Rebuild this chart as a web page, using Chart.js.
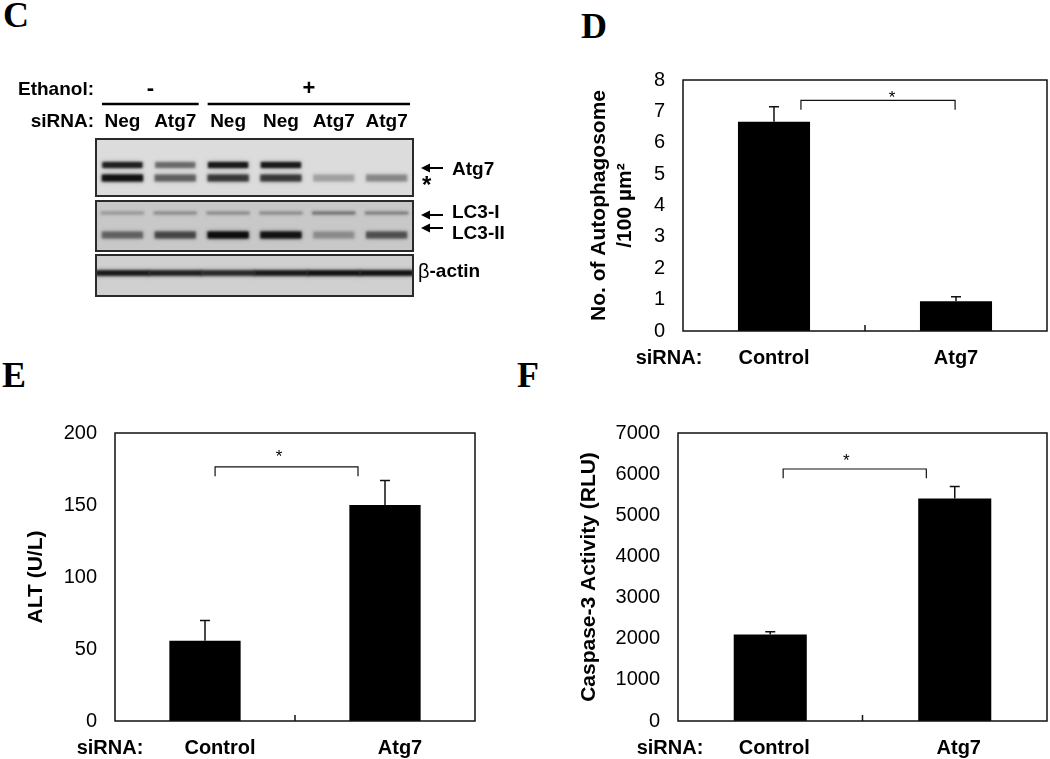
<!DOCTYPE html>
<html>
<head>
<meta charset="utf-8">
<script src="https://cdn.jsdelivr.net/npm/chart.js@4.4.1/dist/chart.umd.min.js"></script>
<style>
  html, body { margin: 0; padding: 0; background: #fff; }
  body { width: 1050px; height: 759px; position: relative; overflow: hidden; }
  canvas { position: absolute; }
  .tag {
    position: absolute;
    font-family: "Liberation Serif", "Times New Roman", serif;
    font-weight: bold; font-size: 36px; line-height: 36px; color: #000;
  }
</style>
</head>
<body>
<div class="tag" style="left:3px;top:-3px">C</div>
<div class="tag" style="left:581px;top:8px">D</div>
<div class="tag" style="left:2px;top:357px">E</div>
<div class="tag" style="left:517px;top:357px">F</div>

<canvas id="blot" width="520" height="240" style="left:0;top:60px"></canvas>
<canvas id="chartD" width="490" height="330" style="left:560px;top:50px"></canvas>
<canvas id="chartE" width="480" height="379" style="left:0;top:380px"></canvas>
<canvas id="chartF" width="530" height="379" style="left:520px;top:380px"></canvas>

<script>
// ── Data ──────────────────────────────────────────────────────
const groups = ['Control', 'Atg7'];

const autophagosome    = [6.67, 0.95];
const autophagosomeErr = [0.48, 0.14];

const alt    = [55.8, 150];
const altErr = [14, 17];

const caspase    = [2100, 5410];
const caspaseErr = [70, 290];

// western blot (C): band intensity per lane, 0..1
const lanes     = ['Neg', 'Atg7', 'Neg', 'Neg', 'Atg7', 'Atg7'];
const ethanol   = ['-', '-', '+', '+', '+', '+'];
const atg7Band  = [0.85, 0.45, 0.9, 0.9, 0, 0];
const starBand  = [0.95, 0.5, 0.7, 0.7, 0.22, 0.32];
const lc3iBand  = [0.22, 0.28, 0.28, 0.28, 0.42, 0.35];
const lc3iiBand = [0.45, 0.6, 1.0, 0.95, 0.25, 0.55];
const actinBand = [0.9, 0.85, 0.8, 0.9, 0.95, 0.95];

// ── Defaults ──────────────────────────────────────────────────
Chart.defaults.font.family = '"Liberation Sans", Arial, sans-serif';
Chart.defaults.color = '#000';

const SANS = '"Liberation Sans", Arial, sans-serif';

// ── Bar chart decorations: error bars, frame, bracket ────────
const barDecor = {
  id: 'barDecor',
  afterDatasetsDraw(chart, args, o) {
    const { ctx, chartArea: a, scales: { x, y } } = chart;
    const vals = chart.data.datasets[0].data;
    ctx.save();
    ctx.strokeStyle = '#111';
    ctx.lineWidth = 1.5;

    chart.getDatasetMeta(0).data.forEach((bar, i) => {
      const yt = y.getPixelForValue(vals[i] + o.err[i]);
      ctx.beginPath();
      ctx.moveTo(bar.x, bar.y);
      ctx.lineTo(bar.x, yt);
      ctx.moveTo(bar.x - 5, yt);
      ctx.lineTo(bar.x + 5, yt);
      ctx.stroke();
    });

    ctx.strokeRect(a.left, a.top, a.width, a.height);

    const xm = x.getPixelForValue(0.5);
    ctx.beginPath();
    ctx.moveTo(xm, a.bottom);
    ctx.lineTo(xm, a.bottom - 6);
    ctx.stroke();

    // significance bracket
    const x1 = x.getPixelForValue(o.from), x2 = x.getPixelForValue(o.to);
    const yb = y.getPixelForValue(o.top), ye = y.getPixelForValue(o.end);
    ctx.lineWidth = 1.2;
    ctx.beginPath();
    ctx.moveTo(x1, ye); ctx.lineTo(x1, yb); ctx.lineTo(x2, yb); ctx.lineTo(x2, ye);
    ctx.stroke();

    ctx.fillStyle = '#000';
    ctx.textAlign = 'center';
    ctx.textBaseline = 'middle';
    ctx.font = '17px ' + SANS;
    ctx.fillText('*', x.getPixelForValue(o.starX), y.getPixelForValue(o.starY) + 4);

    ctx.font = 'bold 20px ' + SANS;
    ctx.fillText('siRNA:', o.rowLabelX, a.bottom + 27);
    ctx.restore();
  }
};

function barChart(id, values, o) {
  return new Chart(document.getElementById(id), {
    type: 'bar',
    data: {
      labels: groups,
      datasets: [{
        data: values,
        backgroundColor: '#000',
        borderWidth: 0,
        barPercentage: 0.396,
        categoryPercentage: 1,
      }],
    },
    options: {
      responsive: false,
      animation: false,
      devicePixelRatio: 1,
      layout: { padding: { top: o.top, right: o.right, bottom: 0, left: 0 } },
      plugins: {
        legend: { display: false },
        tooltip: { enabled: false },
        barDecor: o.decor,
      },
      scales: {
        x: {
          grid: { display: false, drawTicks: false },
          border: { display: false },
          ticks: { font: { size: 20, weight: 'bold' }, color: '#000', padding: 15, labelOffset: o.labelOffset },
          afterFit: (s) => { s.height = o.xh; },
        },
        y: {
          min: 0, max: o.max,
          grid: { display: false, drawTicks: false },
          border: { display: false },
          ticks: { stepSize: o.step, font: { size: 20 }, color: '#000', padding: 18, callback: (v) => String(v) },
          title: {
            display: true, text: o.title, color: '#000',
            font: { size: 21, weight: 'bold' },
            padding: { top: o.titlePad, bottom: 0 },
          },
          afterFit: (s) => { s.width = o.yw; },
        },
      },
    },
    plugins: [barDecor],
  });
}

// ── D: autophagosomes ────────────────────────────────────────
barChart('chartD', autophagosome, {
  top: 21, right: 3, xh: 49, yw: 123, max: 8, step: 1, titlePad: 27, labelOffset: 0,
  title: ['No. of Autophagosome', '/100 \u00b5m\u00b2'],
  decor: { err: autophagosomeErr, from: 0.148, to: 0.995, top: 7.35, end: 7.05,
           starX: 0.648, starY: 7.55, rowLabelX: 109 },
});

// ── E: ALT ───────────────────────────────────────────────────
barChart('chartE', alt, {
  top: 53, right: 5, xh: 38, yw: 115, max: 200, step: 50, titlePad: 24, labelOffset: 15,
  title: 'ALT (U/L)',
  decor: { err: altErr, from: 0.056, to: 0.85, top: 176.5, end: 170,
           starX: 0.411, starY: 186, rowLabelX: 110 },
});

// ── F: caspase-3 ─────────────────────────────────────────────
barChart('chartF', caspase, {
  top: 53, right: 3, xh: 38, yw: 158, max: 7000, step: 1000, titlePad: 57, labelOffset: 4,
  title: 'Caspase-3 Activity (RLU)',
  decor: { err: caspaseErr, from: 0.07, to: 0.846, top: 6125, end: 5900,
           starX: 0.412, starY: 6417, rowLabelX: 150 },
});

// ── C: western blot ──────────────────────────────────────────
// rows in blot units (0 = top of first membrane, 157 = bottom of last)
const PANELS = [
  { from: 0,   to: 57,  fill: '#dcdcdc' },
  { from: 62,  to: 112, fill: '#c8c8c8' },
  { from: 116, to: 157, fill: '#d0d0d0' },
];
const ROWS = {
  atg7:  { y: 26,  h: 3,   w: 0.76 },
  star:  { y: 39,  h: 3.6, w: 0.78 },
  lc3i:  { y: 74,  h: 1.6, w: 0.82 },
  lc3ii: { y: 96,  h: 3.4, w: 0.78 },
  actin: { y: 134, h: 2.4, w: 1 },
};

function band(vals, row) {
  return {
    data: vals.map(() => [row.y - row.h, row.y + row.h]),
    backgroundColor: vals.map((v) => `rgba(12,12,12,${v})`),
    borderWidth: 0,
    barPercentage: row.w,
    categoryPercentage: 1,
    grouped: false,
  };
}

function arrow(ctx, x1, x2, y) {
  ctx.beginPath();
  ctx.moveTo(x1 + 6, y);
  ctx.lineTo(x2, y);
  ctx.stroke();
  ctx.beginPath();
  ctx.moveTo(x1, y);
  ctx.lineTo(x1 + 9, y - 4.5);
  ctx.lineTo(x1 + 9, y + 4.5);
  ctx.closePath();
  ctx.fill();
}

const blotDecor = {
  id: 'blotDecor',
  beforeDatasetsDraw(chart) {
    const { ctx, chartArea: a, scales: { y } } = chart;
    PANELS.forEach((p) => {
      const t = y.getPixelForValue(p.from), b = y.getPixelForValue(p.to);
      ctx.fillStyle = p.fill;
      ctx.fillRect(a.left, t, a.width, b - t);
    });
    // soft band edges
    ctx.save();
    ctx.filter = 'blur(1px)';
    ctx.shadowColor = 'rgba(0,0,0,0.45)';
    ctx.shadowBlur = 4;
  },
  afterDatasetsDraw(chart) {
    const { ctx, chartArea: a, scales: { x, y } } = chart;
    ctx.restore();
    ctx.save();

    ctx.strokeStyle = '#2a2a2a';
    ctx.lineWidth = 2;
    PANELS.forEach((p) => {
      const t = y.getPixelForValue(p.from), b = y.getPixelForValue(p.to);
      ctx.strokeRect(a.left, t, a.width, b - t);
    });

    ctx.fillStyle = '#000';
    ctx.strokeStyle = '#000';
    ctx.textBaseline = 'middle';

    // header rows
    ctx.font = 'bold 19px ' + SANS;
    ctx.textAlign = 'right';
    ctx.fillText('Ethanol:', a.left - 2, a.top - 49);
    ctx.fillText('siRNA:', a.left - 2, a.top - 17);

    ctx.textAlign = 'center';
    lanes.forEach((l, i) => ctx.fillText(l, x.getPixelForValue(i), a.top - 17));

    const half = (x.getPixelForValue(1) - x.getPixelForValue(0)) / 2;
    let s = 0;
    for (let i = 1; i <= ethanol.length; i++) {
      if (i === ethanol.length || ethanol[i] !== ethanol[s]) {
        const x1 = x.getPixelForValue(s) - half + 6;
        const x2 = x.getPixelForValue(i - 1) + half - 3;
        ctx.lineWidth = 2.5;
        ctx.beginPath();
        ctx.moveTo(x1, a.top - 35);
        ctx.lineTo(x2, a.top - 35);
        ctx.stroke();
        ctx.font = 'bold 22px ' + SANS;
        ctx.fillText(ethanol[s], (x1 + x2) / 2, a.top - 50);
        s = i;
      }
    }

    // band labels on the right
    const r = a.right;
    ctx.lineWidth = 2;
    ctx.textAlign = 'left';
    ctx.font = 'bold 19px ' + SANS;
    arrow(ctx, r + 8, r + 30, y.getPixelForValue(29));
    ctx.fillText('Atg7', r + 39, y.getPixelForValue(31));
    ctx.font = 'bold 24px ' + SANS;
    ctx.fillText('*', r + 9, y.getPixelForValue(47));
    ctx.font = 'bold 19px ' + SANS;
    arrow(ctx, r + 8, r + 30, y.getPixelForValue(76));
    ctx.fillText('LC3-I', r + 39, y.getPixelForValue(74));
    arrow(ctx, r + 8, r + 30, y.getPixelForValue(89));
    ctx.fillText('LC3-II', r + 39, y.getPixelForValue(95));

    const ya = y.getPixelForValue(133);
    ctx.font = '20px ' + SANS;
    ctx.fillText('\u03b2', r + 5, ya);
    const bw = ctx.measureText('\u03b2').width;
    ctx.font = 'bold 19px ' + SANS;
    ctx.fillText('-actin', r + 5 + bw, ya);

    ctx.restore();
  },
};

new Chart(document.getElementById('blot'), {
  type: 'bar',
  data: {
    labels: lanes,
    datasets: [
      band(atg7Band, ROWS.atg7),
      band(starBand, ROWS.star),
      band(lc3iBand, ROWS.lc3i),
      band(lc3iiBand, ROWS.lc3ii),
      band(actinBand, ROWS.actin),
    ],
  },
  options: {
    responsive: false,
    animation: false,
    devicePixelRatio: 1,
    layout: { padding: { left: 96, right: 107, top: 79, bottom: 4 } },
    plugins: { legend: { display: false }, tooltip: { enabled: false } },
    scales: {
      x: { display: false },
      y: { display: false, min: 0, max: 157, reverse: true },
    },
  },
  plugins: [blotDecor],
});
</script>
</body>
</html>
